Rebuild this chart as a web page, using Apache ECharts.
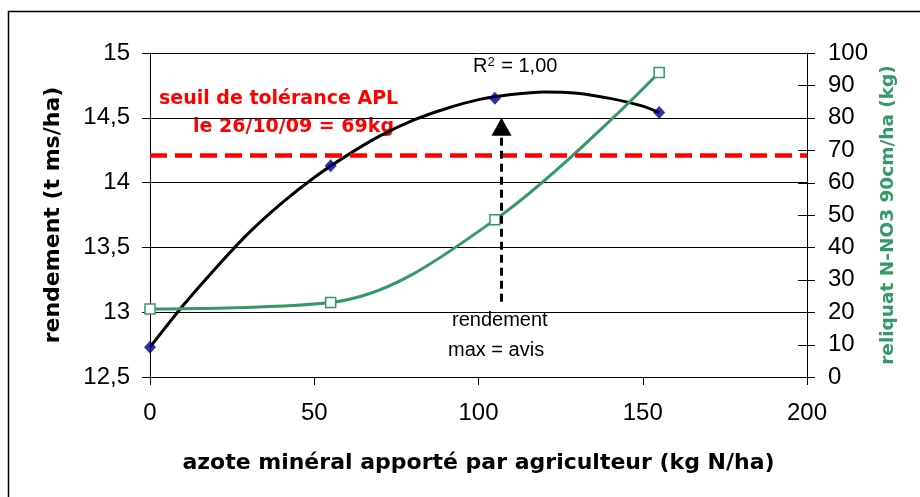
<!DOCTYPE html>
<html><head><meta charset="utf-8">
<script src="https://cdn.jsdelivr.net/npm/echarts@6/dist/echarts.min.js"></script>
<style>html,body{margin:0;padding:0;background:#fff}#c{width:920px;height:497px}</style>
</head><body><div id="c"></div>
<script>
// Measured points
var nitrogenX = [0, 55, 105, 155];
var yieldValues = [12.73, 14.13, 14.65, 14.54];
var residualValues = [21, 23, 48.5, 94];
// Polynomial trendline
var trendX = [0, 10, 20, 30, 40, 50, 60, 70, 80, 90, 100, 110, 120, 130, 140, 150, 155];
var trendY = [12.73, 13.05, 13.34, 13.61, 13.84, 14.04, 14.21, 14.36, 14.48, 14.57, 14.64, 14.68, 14.70, 14.69, 14.65, 14.59, 14.54];
// Threshold and arrow annotation
var thresholdValue = [68.5];
var arrowX = [107];
var arrowY = [13.08, 14.43];
// Axis ranges
var xTicks = [0, 50, 100, 150, 200];
var leftTicks = [12.5, 13, 13.5, 14, 14.5, 15];
var rightTicks = [0, 10, 20, 30, 40, 50, 60, 70, 80, 90, 100];

var F = 'Liberation Sans, Arial, sans-serif';
var FB = 'DejaVu Sans, Liberation Sans, sans-serif';
var chart = echarts.init(document.getElementById('c'), null, {renderer: 'canvas'});
var zip = function (a, b) { return a.map(function (v, i) { return [v, b[i]]; }); };
var green = '#339966';

chart.setOption({
  animation: false,
  backgroundColor: '#fff',
  grid: {left: 150, right: 113, top: 53, bottom: 120, containLabel: false},
  xAxis: {
    type: 'value', min: xTicks[0], max: xTicks[xTicks.length - 1], interval: 50,
    name: 'azote minéral apporté par agriculteur (kg N/ha)', nameLocation: 'middle', nameGap: 75,
    nameTextStyle: {fontFamily: FB, fontSize: 22, fontWeight: 'bold', color: '#000'},
    axisLine: {show: true, lineStyle: {color: '#000', width: 1}},
    axisTick: {show: true, length: 8, lineStyle: {color: '#000'}},
    axisLabel: {fontFamily: F, fontSize: 24, color: '#000', margin: 24},
    splitLine: {show: false}
  },
  yAxis: [{
    type: 'value', min: leftTicks[0], max: leftTicks[leftTicks.length - 1], interval: 0.5,
    name: 'rendement (t ms/ha)', nameLocation: 'middle', nameGap: 86, nameRotate: 90,
    nameTextStyle: {fontFamily: FB, fontSize: 22, fontWeight: 'bold', color: '#000'},
    axisLine: {show: true, onZero: false, lineStyle: {color: '#000', width: 1}},
    axisTick: {show: true, length: 8, lineStyle: {color: '#000'}},
    axisLabel: {fontFamily: F, fontSize: 24, color: '#000', margin: 20,
      formatter: function (v) { return String(v).replace('.', ','); }},
    splitLine: {show: true, lineStyle: {color: '#000', width: 1}}
  }, {
    type: 'value', position: 'right', min: rightTicks[0], max: rightTicks[rightTicks.length - 1], interval: 10,
    name: 'reliquat N-NO3 90cm/ha (kg)', nameLocation: 'middle', nameGap: 62, nameRotate: 90,
    nameTextStyle: {fontFamily: FB, fontSize: 18.5, fontWeight: 'bold', color: green},
    axisLine: {show: true, onZero: false, lineStyle: {color: '#000', width: 1}},
    axisTick: {show: false},
    axisLabel: {fontFamily: F, fontSize: 24, color: '#000', margin: 21},
    splitLine: {show: false}
  }],
  series: [{
    name: 'trend', type: 'line', yAxisIndex: 0, data: zip(trendX, trendY),
    symbol: 'none', smooth: 0.3, lineStyle: {color: '#000', width: 3}, z: 3
  }, {
    name: 'rendement', type: 'scatter', yAxisIndex: 0, data: zip(nitrogenX, yieldValues),
    symbol: 'diamond', symbolSize: [12, 13], itemStyle: {color: '#000080'}, z: 5
  }, {
    name: 'reliquat', type: 'line', yAxisIndex: 1, data: zip(nitrogenX, residualValues),
    smooth: 0.35, symbol: 'rect', symbolSize: 10, showAllSymbol: true,
    lineStyle: {color: green, width: 3},
    itemStyle: {color: '#fff', borderColor: green, borderWidth: 1.5}, z: 4,
    markLine: {
      silent: true, symbol: 'none', label: {show: false},
      lineStyle: {color: '#ff0000', width: 4.5, type: [17, 8]},
      data: [{yAxis: thresholdValue[0]}]
    }
  }, {
    name: 'arrow', type: 'line', yAxisIndex: 0, data: [],
    markLine: {
      silent: true, label: {show: false}, symbol: ['none', 'triangle'], symbolSize: [20, 18],
      lineStyle: {color: '#000', width: 3, type: [8, 5]},
      data: [[{coord: [arrowX[0], arrowY[0]]}, {coord: [arrowX[0], arrowY[1]]}]]
    }
  }, {
    name: 'rightTicks', type: 'custom', xAxisIndex: 0, yAxisIndex: 1, silent: true, clip: false,
    data: rightTicks.map(function (v) { return [xTicks[xTicks.length - 1], v]; }),
    renderItem: function (params, api) {
      var p = api.coord([api.value(0), api.value(1)]);
      var y = Math.round(p[1]) + 0.5;
      return {type: 'line', shape: {x1: p[0] - 9, y1: y, x2: p[0] + 8, y2: y},
              style: {stroke: '#000', lineWidth: 1}};
    }
  }],
  graphic: [
    {type: 'polyline', shape: {points: [[8.5, 497], [8.5, 11.5], [920, 11.5]]}, style: {stroke: '#000', lineWidth: 1.5, fill: null}},
    {type: 'text', left: 159, top: 90, style: {text: 'seuil de tolérance APL', font: 'bold 19px ' + FB, fill: '#ff0000'}},
    {type: 'text', left: 193, top: 118, style: {text: 'le 26/10/09 = 69kg', font: 'bold 19px ' + FB, fill: '#ff0000'}},
    {type: 'text', left: 473, top: 56, style: {
      text: '{a|R}{s|2}{a| = 1,00}',
      rich: {a: {fontFamily: F, fontSize: 20, color: '#000'},
             s: {fontFamily: F, fontSize: 13, color: '#000', verticalAlign: 'top', padding: [0, 1, 8, 0]}}}},
    {type: 'text', left: 452, top: 310, style: {text: 'rendement', font: '20px ' + F, fill: '#000'}},
    {type: 'text', left: 448, top: 340, style: {text: 'max = avis', font: '20px ' + F, fill: '#000'}}
  ]
});
</script></body></html>
